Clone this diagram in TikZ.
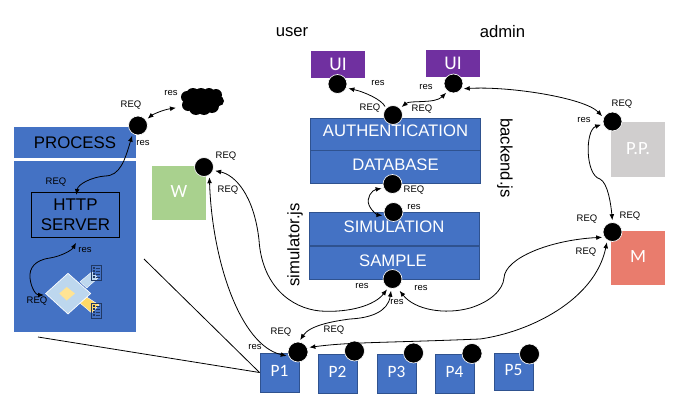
\documentclass[tikz,border=0pt]{standalone}
\usepackage{fontspec}
\setmainfont{Liberation Sans}
\newfontfamily\calib{Carlito}
\usetikzlibrary{arrows.meta}
\definecolor{bluefill}{HTML}{4472C4}
\definecolor{blueedge}{HTML}{2F528F}
\definecolor{purp}{HTML}{7030A0}
\definecolor{grn}{HTML}{A9D18E}
\definecolor{gry}{HTML}{D0CECE}
\definecolor{sal}{HTML}{E97C6D}
\definecolor{lblu}{HTML}{BDD7EE}
\definecolor{yel}{HTML}{FFD966}
\definecolor{navy}{HTML}{203864}
\newcommand{\up}[1]{\raisebox{2pt}{#1}}
\tikzset{
 x=0.75pt,y=-0.75pt,
 bluebox/.style={fill=bluefill,draw=blueedge,line width=0.7pt,inner sep=0},
 boxtext/.style={text=white,inner sep=0,font=\fontsize{12.5}{14}\selectfont},
 pbox/.style={fill=bluefill,draw=blueedge,line width=0.7pt,inner sep=0,text=white,minimum width=29.25pt,minimum height=29.25pt,font=\calib\fontsize{13}{15}\selectfont},
 colbox/.style={inner sep=0,text=white,font=\calib\fontsize{14}{15}\selectfont},
 uibox/.style={fill=purp,inner sep=0,text=white,minimum width=40.5pt,minimum height=20.25pt,font=\calib\fontsize{14.5}{15}\selectfont},
 dot/.style={circle,fill=black,draw=white,line width=0.5pt,minimum size=14.2pt,inner sep=0},
 pdot/.style={dot,minimum size=15pt},
 small/.style={font=\fontsize{7.1}{8}\selectfont,inner sep=0},
 big/.style={font=\fontsize{12.5}{13}\selectfont,inner sep=0},
 conn/.style={line width=0.6pt,black,shorten >=1.5pt,shorten <=1.5pt},
 both/.style={conn,{Latex[length=4.5pt,width=3.6pt]}-{Latex[length=4.5pt,width=3.6pt]}},
 endh/.style={conn,-{Latex[length=4.5pt,width=3.6pt]}},
 plain/.style={line width=0.6pt,black},
}
\begin{document}
\begin{tikzpicture}
\useasboundingbox (0,0) rectangle (693,414);
% process
\node[fill=bluefill,inner sep=0,minimum width=91.5pt,minimum height=23.25pt,font=\fontsize{12.6}{14}\selectfont] (process) at (75,142.5) {PROCESS};
\node[fill=bluefill,inner sep=0,minimum width=91.5pt,minimum height=128.25pt] (procbody) at (75,246.5) {};
\node[draw=black,line width=0.7pt,minimum width=66.4pt,minimum height=33.75pt,inner sep=0,align=center,font=\fontsize{12.7}{15.2}\selectfont] (http) at (75.5,214.5) {HTTP\\SERVER};
% icon
\fill[lblu,draw=white,line width=.3pt] (80,281.7) -- (91.7,272) -- (98,278) -- (86.7,288) -- cycle;
\fill[yel,draw=white,line width=.3pt] (80,303) -- (86.7,297) -- (99,305) -- (91.7,313) -- cycle;
\draw[fill=lblu,draw=white,line width=.5pt] (45.7,293.5) -- (68,273.3) -- (90.7,293.5) -- (68,314) -- cycle;
\fill[yel!70!white] (59.3,293.5) -- (66.7,287) -- (75,293.5) -- (66.7,300.5) -- cycle;
\draw[navy,line width=.7pt] (91,265.5) rectangle (101.3,280.5);
\draw[navy,line width=.7pt] (91,303.5) rectangle (101.3,318.5);
\foreach \y in {268,271,274,277}{\draw[navy,line width=.8pt] (93,\y) -- (94.5,\y);\draw[navy,line width=.5pt] (95.5,\y) -- (100,\y);}
\foreach \y in {306,309,312,315}{\draw[navy,line width=.8pt] (93,\y) -- (94.5,\y);\draw[navy,line width=.5pt] (95.5,\y) -- (100,\y);}
\coordinate (iconleft) at (46,295);
\coordinate (httpbelow) at (77,241);
\coordinate (httptop) at (76,197);
% cloud
\foreach \a/\b/\r in {187/97/6,193/95/7,201/95/7,209/94/6,216/95/6,219/101/5,188/105/6,196/108/7,204/108/7,212/106/7,202/101/10}{\fill[black] (\a,\b) circle[radius=\r*0.75pt];}
\coordinate (cloud) at (178,107.5);
% boxes
\node[uibox] (ui1) at (338,64.5) {UI};
\node[uibox] (ui2) at (453,63.5) {UI};
\node[bluebox,minimum width=127pt,minimum height=24pt] (auth) at (395.5,134) {};
\node[boxtext] at (395.5,131) {AUTHENTICATION};
\node[bluebox,minimum width=127pt,minimum height=24.4pt] (db) at (395.5,167.2) {};
\node[boxtext] at (395.5,165) {DATABASE};
\node[bluebox,minimum width=127.5pt,minimum height=24.4pt] (sim) at (394,229.2) {};
\node[boxtext] at (394,227) {SIMULATION};
\node[bluebox,minimum width=127.5pt,minimum height=24.4pt] (sample) at (394,263.2) {};
\node[boxtext] at (393,261) {SAMPLE};
\node[fill=grn,colbox,minimum width=40.5pt,minimum height=40.5pt] (w) at (179,193) {\up{W}};
\node[fill=gry,colbox,minimum width=40.5pt,minimum height=41.25pt] (pp) at (638,149.5) {\up{P.P.}};
\node[fill=sal,colbox,minimum width=40.5pt,minimum height=40.5pt] (m) at (638,258) {\up{M}};
\node[pbox] (p1) at (279.5,372.5) {\up{P1}};
\node[pbox] (p2) at (337.5,373.5) {\up{P2}};
\node[pbox] (p3) at (396.5,373.5) {\up{P3}};
\node[pbox] (p4) at (454.5,373.5) {\up{P4}};
\node[pbox,minimum height=27.75pt] (p5) at (513.5,371.5) {\up{P5}};
% plain lines
\coordinate (lineA) at (144,259);
\coordinate (lineB) at (38,337);
\draw[plain] (lineA) -- (p1.west);
\draw[plain] (lineB) -- (p1.west);
% dots
\node[dot] (dproc) at (138,125.5) {};
\node[dot] (dw) at (204,167) {};
\node[dot] (dui1) at (337.5,84) {};
\node[dot] (dui2) at (453.5,83.5) {};
\node[dot] (dauth) at (393,115) {};
\node[dot] (ddb) at (392.5,184) {};
\node[dot] (dsim) at (393.5,212) {};
\node[dot] (dsample) at (392.5,279) {};
\node[pdot] (dp1) at (298,352) {};
\node[pdot] (dp2) at (354.5,351) {};
\node[pdot] (dp3) at (413.5,353) {};
\node[pdot] (dp4) at (472,353.5) {};
\node[pdot] (dp5) at (529.5,354) {};
\node[dot] (dpp) at (612.5,121.5) {};
\node[dot] (dm) at (612.5,232) {};
% connectors
\draw[both] (dproc.34) .. controls (152,115) and (162,110) .. (cloud);
\draw[both] (dproc.237) .. controls (125,160) and (120,176) .. (105,176) .. controls (92,177) and (78,184) .. (httptop);
\draw[both] (httpbelow) .. controls (72,250) and (62,256) .. (50,258) .. controls (35,260) and (29,268) .. (30,278) .. controls (31,288) and (36,295) .. (iconleft);
\draw[endh] (dauth.137) .. controls (382,100) and (365,92) .. (dui1.336);
\draw[both] (dauth.43) .. controls (410,100) and (435,104) .. (dui2.233);
\draw[both] (dui2.327) .. controls (510,86) and (585,98) .. (dpp.157);
\draw[both] (dpp.195) .. controls (585,130) and (585,175) .. (600,179) .. controls (608,183) and (611,205) .. (dm.90);
\draw[both] (ddb.205) .. controls (372,190) and (366,198) .. (369,205) .. controls (372,212) and (378,215) .. (dsim.202);
\draw[both] (dw.340) .. controls (235,175) and (254,195) .. (259,240) .. controls (262,285) and (290,308) .. (320,311) .. controls (350,313) and (375,305) .. (dsample.244);
\draw[both] (dw.303) .. controls (212,260) and (240,345) .. (dp1.205);
\draw[both] (dp1.84) .. controls (310,325) and (335,321) .. (350,319) .. controls (370,318) and (388,312) .. (dsample.263);
\draw[both,shorten <=3pt] (dsample.298) .. controls (415,310) and (445,315) .. (470,308) .. controls (490,302) and (503,290) .. (504,278) .. controls (505,258) and (550,240) .. (dm.212);
\draw[both] (dp1.25) .. controls (350,342) and (380,343) .. (480,339) .. controls (530,332) and (595,300) .. (dm.238);
% labels
\node[big] at (292,32) {user};
\node[big] at (502.5,32) {admin};
\node[big,rotate=-90] (backend) at (505,158) {backend.js};
\node[big,rotate=90] (simjs) at (295,245) {simulator.js};
\foreach \x/\y/\t in {
 131/105/REQ, 171/93/res, 143/143/res, 56/182/REQ, 85/250/res, 37/301/REQ,
 226/156/REQ, 228/190/REQ, 378/83/res, 426/87/res, 370/108/REQ, 422/109/REQ,
 414/190/REQ, 414/207/res, 362/286/res, 421/288/res, 397/302/res,
 281/332/REQ, 334/330/REQ, 255/347/res,
 622/104/REQ, 584/120/res, 587/219/REQ, 630/216/REQ, 586/252/REQ}{
 \node[small] at (\x,\y) {\t};
}
\end{tikzpicture}
\end{document}
